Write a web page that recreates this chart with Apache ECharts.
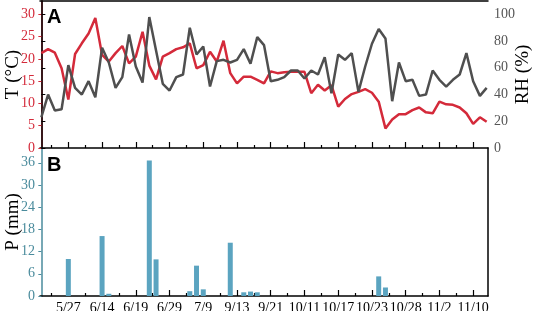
<!DOCTYPE html>
<html><head><meta charset="utf-8">
<script src="https://cdn.jsdelivr.net/npm/echarts@6/dist/echarts.min.js"></script>
<style>html,body{margin:0;padding:0;background:#fff}#c{width:533px;height:311px}</style>
</head><body><div id="c"></div>
<script>
// Sampling-date tick labels and their positions (sample index)
const dateLabels = ['5/27','6/14','6/19','6/29','7/9','9/13','9/21','10/11','10/17','10/23','10/28','11/2','11/10'];
const labelIndex = [4,9,14,19,24,29,34,39,44,49,54,59,64];
const minorTickIndex = [1.5,6.5,11.5,16.5,21.5,26.5,31.5,36.5,41.5,46.5,51.5,56.5,61.5];

// Air temperature T (°C), one value per sample
const temperature = [21.3,22.2,21.4,17.9,10.9,21.1,23.5,25.7,29.2,20.9,
  19.4,21.3,22.9,19.0,20.5,26.1,18.5,15.4,20.5,21.3,
  22.2,22.6,23.5,17.9,18.6,21.6,19.4,24.1,16.8,14.5,
  16.0,16.0,15.3,14.5,17.2,16.8,17.0,17.1,17.1,17.1,
  12.3,14.2,12.9,14.1,9.3,11.0,12.1,12.6,13.2,12.4,
  10.4,4.4,6.4,7.6,7.6,8.5,9.1,8.0,7.8,10.4,
  9.8,9.7,9.1,7.8,5.4,6.9,5.9];

// Relative humidity RH (%)
const humidity = [23,40,28,29,62,45,40,50,38,75,
  64,45,53,85,61,49,98,73,48,43,
  53,55,90,70,76,46,65,66,64,66,
  74,63,83,77,50,51,53,58,58,52,
  58,55,68,41,70,66,71,42,61,78,
  89,82,35,64,50,51,39,40,58,51,
  46,51,55,71,50,39,45];

// Precipitation P (mm)
const rainIndex = [4,9,10,16,17,22,23,24,28,30,31,32,50,51];
const rainValues = [10,16.2,0.6,36.6,9.9,1.3,8.2,1.8,14.4,1.0,1.2,1.0,5.3,2.3];

const tempTicks = [0,5,10,15,20,25,30];
const rhTicks = [0,20,40,60,80,100];
const rainTicks = [0,6,12,18,24,30,36];

const RED = '#d42a3a', GRAY = '#4f4f4f', BAR = '#5ba4c0', TEAL = '#4a8b9c';
const serif = '"Liberation Serif","Times New Roman",serif';
const FS = 14;

function xAxisMain(grid, showLabels) {
  return {
    type: 'value', gridIndex: grid, min: -0.2, max: 66.2, position: 'bottom',
    axisLine: {show: true, lineStyle: {color: '#000', width: 1.5}},
    axisTick: {show: true, inside: true, length: 6, customValues: labelIndex, lineStyle: {color: '#000', width: 1.2}},
    axisLabel: {show: showLabels, customValues: labelIndex, margin: 5,
      formatter: v => dateLabels[labelIndex.indexOf(v)] || '',
      fontFamily: serif, fontSize: FS, color: '#000'},
    splitLine: {show: false}
  };
}
function xAxisMinor(grid) {
  return {
    type: 'value', gridIndex: grid, min: -0.2, max: 66.2, position: 'bottom',
    axisLine: {show: false},
    axisTick: {show: true, inside: true, length: 3, customValues: minorTickIndex, lineStyle: {color: '#000', width: 1.2}},
    axisLabel: {show: false},
    splitLine: {show: false}
  };
}
function frameAxis(kind, grid, pos) {
  return {
    type: 'value', gridIndex: grid, position: pos, min: 0, max: 1,
    axisLine: {show: true, onZero: false, lineStyle: {color: '#000', width: 1.5}},
    axisTick: {show: false}, axisLabel: {show: false}, splitLine: {show: false}
  };
}

const chart = echarts.init(document.getElementById('c'), null, {renderer: 'canvas'});
chart.setOption({
  animation: false,
  backgroundColor: '#fff',
  grid: [
    {left: 40, right: 45, top: 1, height: 147, containLabel: false, outerBoundsMode: 'none'},
    {left: 40, right: 45, top: 148, height: 148, containLabel: false, outerBoundsMode: 'none'}
  ],
  xAxis: [xAxisMain(0, false), xAxisMinor(0), xAxisMain(1, true), xAxisMinor(1), frameAxis('x', 0, 'top')],
  yAxis: [
    {type: 'value', gridIndex: 0, position: 'left', min: 0, max: 33,
      name: 'T (°C)', nameLocation: 'middle', nameGap: 17, nameRotate: 90, nameMoveOverlap: false,
      nameTextStyle: {fontFamily: serif, fontSize: 19, color: '#000'},
      axisLine: {show: true, lineStyle: {color: RED, width: 1.5}},
      axisTick: {show: true, length: 3, customValues: tempTicks, lineStyle: {color: RED}},
      axisLabel: {customValues: tempTicks, margin: 5, fontFamily: serif, fontSize: FS, color: RED},
      splitLine: {show: false}},
    {type: 'value', gridIndex: 0, position: 'right', min: 0, max: 110,
      name: 'RH (%)', nameLocation: 'middle', nameGap: 26, nameRotate: 90, nameMoveOverlap: false,
      nameTextStyle: {fontFamily: serif, fontSize: 19, color: '#000'},
      axisLine: {show: true, lineStyle: {color: '#000', width: 1.5}},
      axisTick: {show: true, length: 4, customValues: rhTicks, lineStyle: {color: '#000'}},
      axisLabel: {customValues: rhTicks, margin: 6, fontFamily: serif, fontSize: FS, color: '#555'},
      splitLine: {show: false}},
    {type: 'value', gridIndex: 1, position: 'left', min: 0, max: 40,
      name: 'P (mm)', nameLocation: 'middle', nameGap: 17, nameRotate: 90, nameMoveOverlap: false,
      nameTextStyle: {fontFamily: serif, fontSize: 19, color: '#000'},
      axisLine: {show: true, lineStyle: {color: TEAL, width: 1.5}},
      axisTick: {show: true, length: 3, customValues: rainTicks, lineStyle: {color: TEAL}},
      axisLabel: {customValues: rainTicks, margin: 5, fontFamily: serif, fontSize: FS, color: TEAL},
      splitLine: {show: false}},
    frameAxis('y', 1, 'right')
  ],
  series: [
    {type: 'line', name: 'T', xAxisIndex: 0, yAxisIndex: 0, showSymbol: false,
      data: temperature.map((v, i) => [i, v]),
      lineStyle: {color: RED, width: 2.5}, itemStyle: {color: RED}},
    {type: 'line', name: 'RH', xAxisIndex: 0, yAxisIndex: 1, showSymbol: false,
      data: humidity.map((v, i) => [i, v]),
      lineStyle: {color: GRAY, width: 2.5}, itemStyle: {color: GRAY}},
    {type: 'bar', name: 'P', xAxisIndex: 2, yAxisIndex: 2, barWidth: 5,
      data: rainIndex.map((x, k) => [x, rainValues[k]]),
      itemStyle: {color: BAR}}
  ],
  graphic: [
    {type: 'text', left: 47, top: 7, style: {text: 'A', font: 'bold 20px "Liberation Sans", Arial, sans-serif', fill: '#000'}},
    {type: 'text', left: 47, top: 155, style: {text: 'B', font: 'bold 20px "Liberation Sans", Arial, sans-serif', fill: '#000'}}
  ]
});
</script></body></html>
